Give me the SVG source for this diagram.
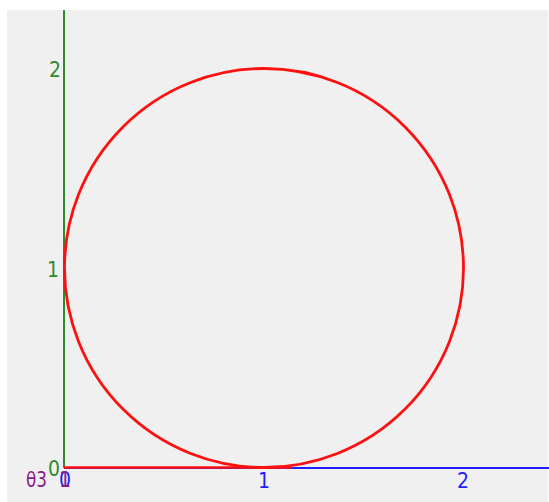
<svg xmlns="http://www.w3.org/2000/svg" width="549" height="502" viewBox="0 0 549 502">
<style>
.t{font-family:"DejaVu Sans Condensed","DejaVu Sans",sans-serif;font-size:21px}
.g{fill:#2e8b2e}.b{fill:#1f1fff}.p{fill:#8b1a8b}
</style>
<rect x="0" y="0" width="549" height="502" fill="#ffffff"/>
<rect x="7" y="10" width="541" height="492" fill="#f0f0f0"/>
<g id="axes">
<line x1="64" y1="10" x2="64" y2="468" stroke="#2e8b2e" stroke-width="2"/>
<line x1="64" y1="468" x2="549" y2="468" stroke="#1f1fff" stroke-width="2"/>
</g>
<g id="connectors">
<line x1="64" y1="467.5" x2="292" y2="467.5" stroke="#ff1010" stroke-width="2.5"/>
</g>
<g id="circle">
<circle cx="264" cy="268" r="199.5" fill="none" stroke="#ff1010" stroke-width="2.8"/>
</g>
<g id="labels">
<text class="t g" x="61" y="77" text-anchor="end">2</text>
<text class="t g" x="59" y="277" text-anchor="end">1</text>
<text class="t g" x="60" y="476" text-anchor="end">0</text>
<text class="t p" x="26" y="487" textLength="21" lengthAdjust="spacingAndGlyphs">θ3</text>
<text class="t b" x="264" y="488" text-anchor="middle">1</text>
<text class="t b" x="463" y="488" text-anchor="middle">2</text>
<text class="t b" x="65" y="487" text-anchor="middle">0</text>
<text class="t p" x="65" y="487" text-anchor="middle">1</text>
</g>
</svg>
